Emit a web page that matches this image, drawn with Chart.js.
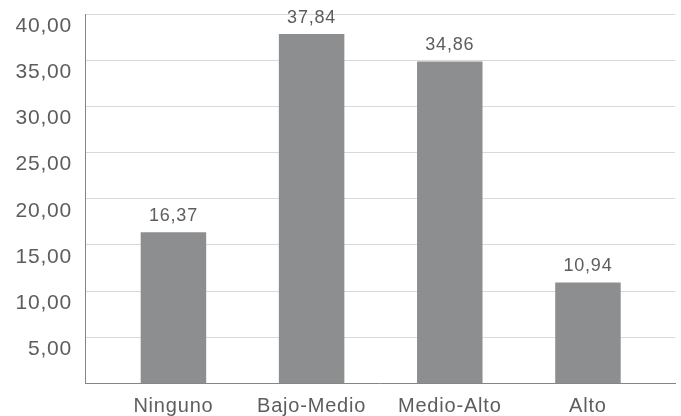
<!DOCTYPE html>
<html>
<head>
<meta charset="utf-8">
<script src="https://cdn.jsdelivr.net/npm/chart.js@4"></script>
<style>
  html, body { margin: 0; padding: 0; background: #ffffff; }
  #wrap { width: 681px; height: 416px; }
</style>
</head>
<body>
<div id="wrap"><canvas id="chart" width="681" height="416"></canvas></div>
<script>
// Chart data
const categories = ["Ninguno", "Bajo-Medio", "Medio-Alto", "Alto"]
const values = [16.37, 37.84, 34.86, 10.94]
const yMin = 0
const yMax = 40
const yStep = 5

const FONT = '"Liberation Sans", Arial, sans-serif'
const TEXT_COLOR = "#5d5d60"
const BAR_COLOR = "#8d8e90"

// Spanish style decimals: 16,37
function fmt(v) {
  return v.toFixed(2).replace(".", ",")
}

// Slight tracking on all canvas text
const tracking = {
  id: "tracking",
  beforeUpdate(chart) {
    chart.ctx.letterSpacing = "0.8px"
  },
  beforeDraw(chart) {
    chart.ctx.letterSpacing = "0.8px"
  },
}

// Value labels above each bar
const valueLabels = {
  id: "valueLabels",
  afterDatasetsDraw(chart) {
    const ctx = chart.ctx
    const meta = chart.getDatasetMeta(0)
    ctx.save()
    ctx.font = "18px " + FONT
    ctx.fillStyle = TEXT_COLOR
    ctx.textAlign = "center"
    ctx.textBaseline = "alphabetic"
    meta.data.forEach((bar, i) => {
      ctx.fillText(fmt(values[i]), bar.x, bar.y - 11)
    })
    ctx.restore()
  },
}

const ctx = document.getElementById("chart").getContext("2d")

new Chart(ctx, {
  type: "bar",
  data: {
    datasets: [
      {
        data: values.map((v, i) => ({ x: i, y: v })),
        backgroundColor: BAR_COLOR,
        borderWidth: 0,
        barPercentage: 0.474,
        categoryPercentage: 1,
      },
    ],
  },
  options: {
    responsive: false,
    animation: false,
    layout: {
      padding: { top: 14, right: 6, bottom: 0, left: 0 },
    },
    plugins: {
      legend: { display: false },
      tooltip: { enabled: false },
    },
    scales: {
      x: {
        type: "linear",
        offset: false,
        min: -0.64,
        max: 3.63,
        grid: { display: false, drawTicks: false, offset: false },
        border: { display: true, color: "#858585", width: 1 },
        afterBuildTicks: (axis) => {
          axis.ticks = categories.map((_, i) => ({ value: i }))
        },
        afterFit: (axis) => {
          axis.height = 32.5
          axis.paddingLeft = 0
          axis.paddingRight = 0
        },
        ticks: {
          padding: 10.5,
          maxRotation: 0,
          autoSkip: false,
          color: TEXT_COLOR,
          font: { family: FONT, size: 20 },
          callback: (value) => categories[value],
        },
      },
      y: {
        min: yMin,
        max: yMax,
        grid: { color: "#d9d9d9", lineWidth: 1, drawTicks: false },
        border: { display: true, color: "#858585", width: 1 },
        afterFit: (axis) => {
          axis.width = 85
          axis.paddingTop = 0
          axis.paddingBottom = 0
        },
        ticks: {
          stepSize: yStep,
          padding: 13,
          labelOffset: 12,
          color: TEXT_COLOR,
          font: { family: FONT, size: 21 },
          callback: (value) => (value === 0 ? null : fmt(value)),
        },
      },
    },
  },
  plugins: [tracking, valueLabels],
})
</script>
</body>
</html>
